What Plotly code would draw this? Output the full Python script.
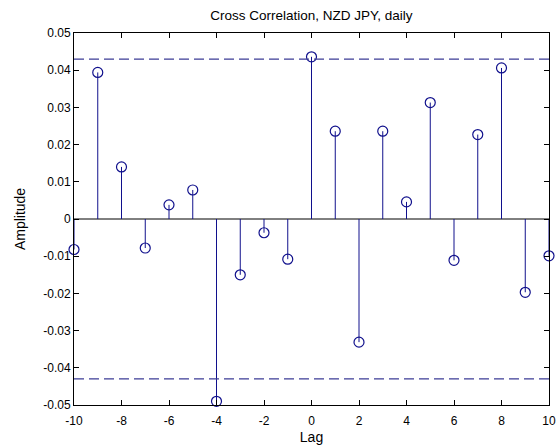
import plotly.graph_objects as go

lags = list(range(-10, 11))
xcorr = [-0.0082, 0.0394, 0.0140, -0.0078, 0.0038, 0.0078, -0.0490, -0.0150, -0.0037, -0.0108,
         0.0436, 0.0236, -0.0331, 0.0236, 0.0046, 0.0313, -0.0111, 0.0227, 0.0406, -0.0197, -0.0099]
bound = 0.043
yticks = [-0.05, -0.04, -0.03, -0.02, -0.01, 0, 0.01, 0.02, 0.03, 0.04, 0.05]
ytick_text = ["-0.05", "-0.04", "-0.03", "-0.02", "-0.01", "0", "0.01", "0.02", "0.03", "0.04", "0.05"]
xticks = [-10, -8, -6, -4, -2, 0, 2, 4, 6, 8, 10]
xtick_text = ["-10", "-8", "-6", "-4", "-2", "0", "2", "4", "6", "8", "10"]

stem_color = "#10108c"
dash_color = "#3c3c96"

sx, sy = [], []
for x, v in zip(lags, xcorr):
    sx += [x, x, None]
    sy += [0, v, None]

fig = go.Figure()
fig.add_trace(go.Scatter(x=[-10, 10], y=[0, 0], mode="lines",
                         line=dict(color="black", width=1), hoverinfo="skip"))
fig.add_trace(go.Scatter(x=sx, y=sy, mode="lines",
                         line=dict(color=stem_color, width=1), hoverinfo="skip"))
fig.add_trace(go.Scatter(x=lags, y=xcorr, mode="markers",
                         marker=dict(symbol="circle-open", size=10, color=stem_color,
                                     line=dict(width=1.2, color=stem_color)),
                         cliponaxis=False))
for b in (bound, -bound):
    fig.add_trace(go.Scatter(x=[-10, 10], y=[b, b], mode="lines",
                             line=dict(color=dash_color, width=1.3, dash="10px,5px"),
                             hoverinfo="skip"))

font = dict(family="Liberation Sans, Arial, sans-serif", size=12, color="black")
fig.update_layout(
    width=560, height=445,
    margin=dict(l=74, r=11, t=33, b=40),
    paper_bgcolor="white", plot_bgcolor="white",
    showlegend=False,
    font=font,
    title=dict(text="Cross Correlation, NZD JPY, daily", x=0.556, xanchor="center",
               y=0.965, yanchor="middle", font=dict(size=13.5, color="black")),
    xaxis=dict(range=[-10, 10], tickvals=xticks, ticktext=xtick_text, ticks="inside", ticklen=5,
               tickcolor="black", showline=True, linecolor="black", linewidth=1,
               mirror="ticks", showgrid=False, zeroline=False, ticklabelstandoff=5,
               automargin=False,
               title=dict(text="Lag", standoff=4), tickfont=font),
    yaxis=dict(range=[-0.05, 0.05], tickvals=yticks, ticktext=ytick_text,
               ticks="inside", ticklen=5, tickcolor="black", showline=True,
               linecolor="black", linewidth=1, mirror="ticks", showgrid=False,
               automargin=False,
               zeroline=False, title=dict(text="Amplitude", standoff=14), tickfont=font),
)
fig.write_html("out.html")
